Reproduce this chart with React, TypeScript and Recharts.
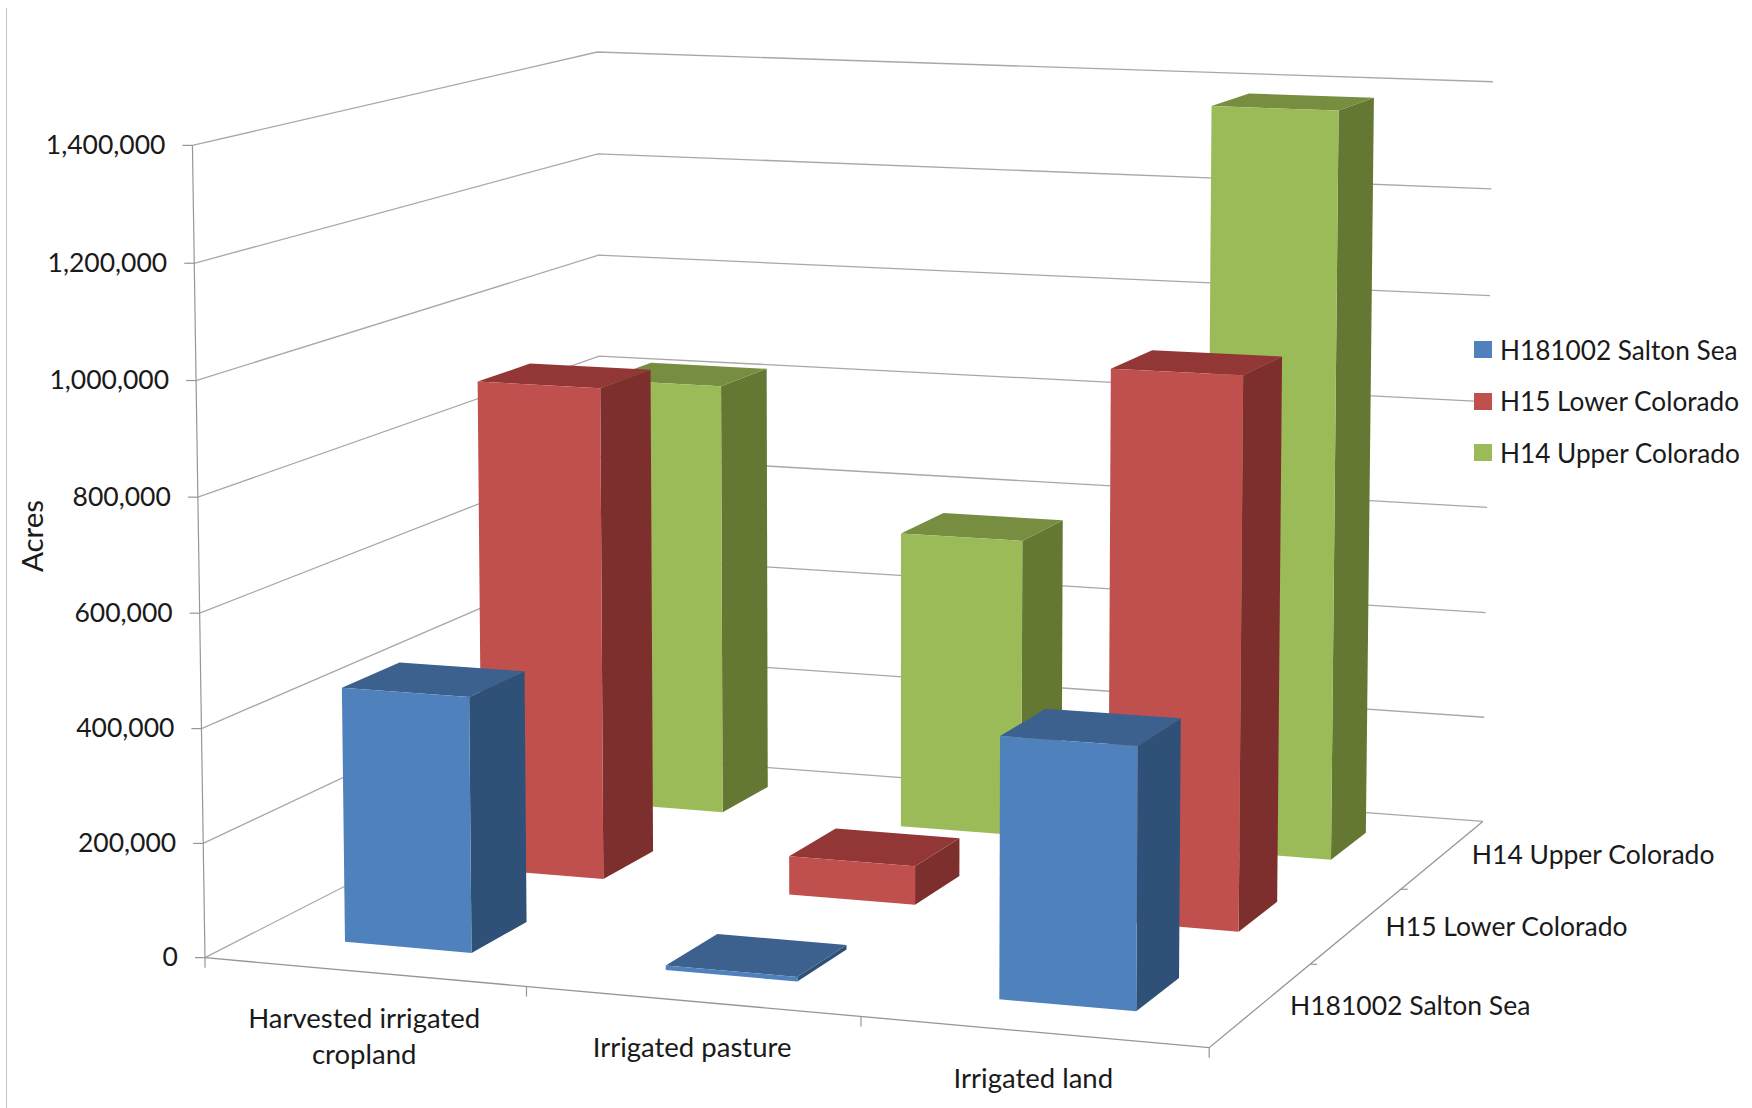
import { Bar, BarChart, CartesianGrid, Legend, XAxis, YAxis } from 'recharts';

const categories = ['Harvested irrigated cropland', 'Irrigated pasture', 'Irrigated land'];
const saltonSea = [448000, 8000, 447000];
const lowerColorado = [898000, 70000, 980000];
const upperColorado = [818000, 558000, 1380000];
const acreTicks = [0, 200000, 400000, 600000, 800000, 1000000, 1200000, 1400000];

const seriesNames = ['H181002 Salton Sea', 'H15 Lower Colorado', 'H14 Upper Colorado'];
const frontColors = ['#4f81bd', '#c0504d', '#9bbb59'];
const sideColors = ['#2f5077', '#7d2f2e', '#647733'];
const topColors = ['#3c618e', '#923736', '#778e41'];

const rows = categories.map((category, i) => ({
  category,
  salton: saltonSea[i],
  lower: lowerColorado[i],
  upper: upperColorado[i],
}));

const WIDTH = 1752;
const HEIGHT = 1108;
const AXIS_SIZE = 1;
const FONT = 'Lato, sans-serif';
const TEXT = '#1a1a1a';
const GRID = '#a8a8a8';
const AXIS = '#969696';
const BAR_SHIFT = -0.001;
const BAR_FRONT = 0.0625;
const BAR_BACK = 0.0725;

// Corners and ticks of the chart box: [u, v, w, screen x, screen y],
// u along categories, v up the value axis, w back through the series.
const BOX_POINTS = [
  [0, 0, 0, 207.6, 956],
  [1, 0, 0, 1207.6, 1047],
  [0, 0, 1, 600, 755],
  [1, 0, 1, 1484, 820],
  [0, 1, 0, 192, 144],
  [0, 1, 1, 598, 52],
  [1, 1, 1, 1493, 82],
  [0, 5 / 7, 0, 196.4, 379.6],
  [0, 5 / 7, 1, 598, 256],
  [1, 5 / 7, 1, 1489.6, 297],
  [1 / 3, 0, 0, 526, 990],
  [2 / 3, 0, 0, 860, 1018.6],
  [1, 0, 1 / 3, 1310, 963.5],
  [1, 0, 2 / 3, 1402, 888],
];

// Least squares fit of the 11 term perspective camera through BOX_POINTS.
function fitCamera() {
  const n = 11;
  const ata = Array.from({ length: n }, () => new Array(n + 1).fill(0));
  const addRow = (row: number[], rhs: number) => {
    for (let i = 0; i < n; i++) {
      for (let j = 0; j < n; j++) ata[i][j] += row[i] * row[j];
      ata[i][n] += row[i] * rhs;
    }
  };
  BOX_POINTS.forEach(([u, v, w, px, py]) => {
    const x = px / 1000;
    const y = py / 1000;
    addRow([u, v, w, 1, 0, 0, 0, 0, -x * u, -x * v, -x * w], x);
    addRow([0, 0, 0, 0, u, v, w, 1, -y * u, -y * v, -y * w], y);
  });
  for (let c = 0; c < n; c++) {
    let pivot = c;
    for (let r = c + 1; r < n; r++) if (Math.abs(ata[r][c]) > Math.abs(ata[pivot][c])) pivot = r;
    [ata[c], ata[pivot]] = [ata[pivot], ata[c]];
    for (let r = 0; r < n; r++) {
      if (r === c) continue;
      const f = ata[r][c] / ata[c][c];
      for (let k = c; k <= n; k++) ata[r][k] -= f * ata[c][k];
    }
  }
  return ata.map((row, i) => row[n] / row[i]);
}

const cam = fitCamera();

function project(u: number, v: number, w: number): [number, number] {
  const d = cam[8] * u + cam[9] * v + cam[10] * w + 1;
  return [
    (1000 * (cam[0] * u + cam[1] * v + cam[2] * w + cam[3])) / d,
    (1000 * (cam[4] * u + cam[5] * v + cam[6] * w + cam[7])) / d,
  ];
}

const points = (list: [number, number][]) => list.map((p) => p.join(',')).join(' ');

// The plot fills the svg apart from the one pixel axes, so axis pixels convert straight to box units.
const toU = (x: number) => (x - AXIS_SIZE) / (WIDTH - AXIS_SIZE);
const toV = (y: number) => (HEIGHT - AXIS_SIZE - y) / (HEIGHT - AXIS_SIZE);

function Column({ x, y, width, seriesIndex }: any) {
  const u0 = toU(x) + BAR_SHIFT;
  const u1 = toU(x + width) + BAR_SHIFT;
  const v = toV(y);
  const mid = (seriesIndex + 0.5) / 3;
  const w0 = mid - BAR_FRONT;
  const w1 = mid + BAR_BACK;
  const front: [number, number][] = [project(u0, 0, w0), project(u1, 0, w0), project(u1, v, w0), project(u0, v, w0)];
  const side: [number, number][] = [project(u1, 0, w0), project(u1, 0, w1), project(u1, v, w1), project(u1, v, w0)];
  const top: [number, number][] = [project(u0, v, w0), project(u1, v, w0), project(u1, v, w1), project(u0, v, w1)];
  return (
    <g>
      <polygon points={points(side)} fill={sideColors[seriesIndex]} />
      <polygon points={points(top)} fill={topColors[seriesIndex]} />
      <polygon points={points(front)} fill={frontColors[seriesIndex]} />
    </g>
  );
}

function WallLine({ y1 }: any) {
  const v = toV(y1);
  return (
    <polyline
      key={`wall-${y1}`}
      points={points([project(0, v, 0), project(0, v, 1), project(1, v, 1)])}
      fill="none"
      stroke={GRID}
      strokeWidth={1.3}
    />
  );
}

function AcreTick({ y, payload }: any) {
  const [ax, ay] = project(0, toV(y), 0);
  return (
    <g>
      <line x1={ax - 10} y1={ay} x2={ax} y2={ay} stroke={AXIS} strokeWidth={1.2} />
      <text x={ax - 27} y={ay + 2} textAnchor="end" dominantBaseline="middle" fontFamily={FONT} fontSize={26.5} fill={TEXT}>
        {Number(payload.value).toLocaleString('en-US')}
      </text>
    </g>
  );
}

// Splits long category names on to two lines.
function wrapLabel(label: string) {
  if (label.length <= 20) return [label];
  const cut = label.lastIndexOf(' ');
  return [label.slice(0, cut), label.slice(cut + 1)];
}

function CategoryTick({ x, payload }: any) {
  const [fx, fy] = project(toU(x), 0, 0);
  return (
    <text textAnchor="middle" fontFamily={FONT} fontSize={27.5} fill={TEXT}>
      {wrapLabel(payload.value).map((line, i) => (
        <tspan key={line} x={fx} y={fy + 56 + i * 36}>
          {line}
        </tspan>
      ))}
    </text>
  );
}

// Floor edges, value axis, their tick marks, the series names and the axis title.
function BoxFrame() {
  const floorFront = [project(0, 0, 0), project(1, 0, 0), project(1, 0, 1)] as [number, number][];
  return (
    <g>
      <polyline points={points(floorFront)} fill="none" stroke={AXIS} strokeWidth={1.3} />
      <line
        x1={project(0, 0, 0)[0]}
        y1={project(0, 0, 0)[1]}
        x2={project(0, 1, 0)[0]}
        y2={project(0, 1, 0)[1]}
        stroke={AXIS}
        strokeWidth={1.2}
      />
      {[0, 1, 2, 3].map((i) => {
        const [x, y] = project(i / categories.length, 0, 0);
        return <line key={i} x1={x} y1={y} x2={x} y2={y + 10} stroke={AXIS} strokeWidth={1.2} />;
      })}
      {[1, 2].map((i) => {
        const [x, y] = project(1, 0, i / 3);
        return <line key={i} x1={x} y1={y} x2={x + 7} y2={y} stroke={AXIS} strokeWidth={1.2} />;
      })}
      {seriesNames.map((name, i) => {
        const [x, y] = project(1, 0, (i + 0.5) / 3);
        return (
          <text key={name} x={x + 29} y={y + 3} dominantBaseline="middle" fontFamily={FONT} fontSize={26.5} fill={TEXT}>
            {name}
          </text>
        );
      })}
      <text
        transform="translate(36 536) rotate(-90)"
        textAnchor="middle"
        dominantBaseline="middle"
        fontFamily={FONT}
        fontSize={29.5}
        fill={TEXT}
      >
        Acres
      </text>
    </g>
  );
}

function SeriesLegend() {
  return (
    <div>
      {seriesNames.map((name, i) => (
        <div key={name} style={{ display: 'flex', alignItems: 'center', height: 51.5 }}>
          <span style={{ width: 18, height: 17, marginRight: 8, background: frontColors[i] }} />
          <span style={{ fontFamily: FONT, fontSize: 26.2, color: TEXT, whiteSpace: 'nowrap' }}>{name}</span>
        </div>
      ))}
    </div>
  );
}

export default function App() {
  return (
    <div style={{ position: 'absolute', left: 0, top: 0, width: WIDTH, height: HEIGHT, background: '#fff' }}>
      <div style={{ position: 'absolute', left: 6, top: 8, width: 1, height: HEIGHT - 8, background: '#c4c4c4' }} />
      <BarChart
        width={WIDTH}
        height={HEIGHT}
        data={rows}
        margin={{ top: 0, right: 0, bottom: 0, left: 0 }}
        barCategoryGap="30%"
      >
        <XAxis
          xAxisId="upper"
          dataKey="category"
          height={AXIS_SIZE}
          interval={0}
          axisLine={false}
          tickLine={false}
          tick={CategoryTick}
        />
        <XAxis xAxisId="lower" dataKey="category" hide />
        <XAxis xAxisId="salton" dataKey="category" hide />
        <YAxis
          width={AXIS_SIZE}
          domain={[0, 1400000]}
          ticks={acreTicks}
          interval={0}
          axisLine={false}
          tickLine={false}
          tick={AcreTick}
        />
        <CartesianGrid xAxisId="upper" vertical={false} horizontal={WallLine} syncWithTicks />
        <BoxFrame />
        <Bar
          xAxisId="upper"
          dataKey="upper"
          name={seriesNames[2]}
          isAnimationActive={false}
          shape={(p: any) => <Column {...p} seriesIndex={2} />}
        />
        <Bar
          xAxisId="lower"
          dataKey="lower"
          name={seriesNames[1]}
          isAnimationActive={false}
          shape={(p: any) => <Column {...p} seriesIndex={1} />}
        />
        <Bar
          xAxisId="salton"
          dataKey="salton"
          name={seriesNames[0]}
          isAnimationActive={false}
          shape={(p: any) => <Column {...p} seriesIndex={0} />}
        />
        <Legend
          layout="vertical"
          align="center"
          verticalAlign="middle"
          wrapperStyle={{ left: 1474, top: 324, width: 278 }}
          content={SeriesLegend}
        />
      </BarChart>
    </div>
  );
}
